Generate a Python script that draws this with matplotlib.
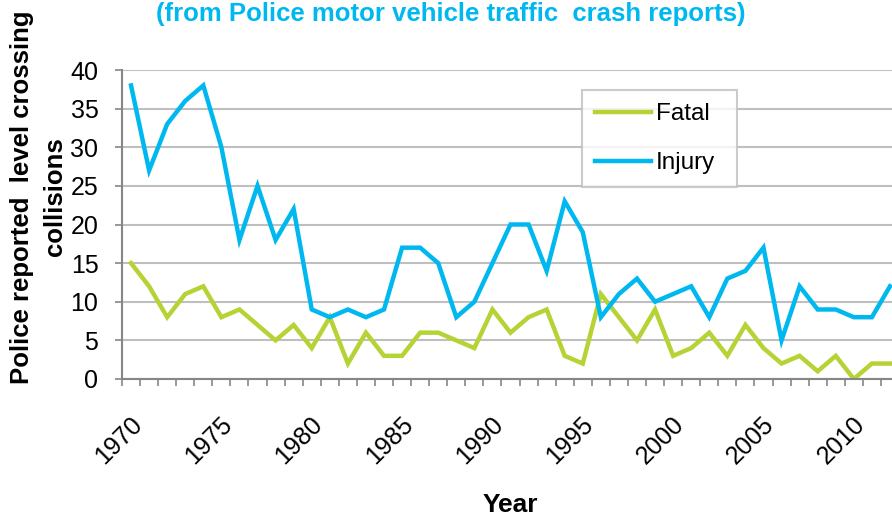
import matplotlib

matplotlib.use("Agg")

import matplotlib.pyplot as plt
from matplotlib.transforms import ScaledTranslation

plt.rcParams["font.family"] = ["Liberation Sans", "DejaVu Sans"]

years = list(range(1970, 2013))
fatal = [15, 12, 8, 11, 12, 8, 9, 7, 5, 7,
         4, 8, 2, 6, 3, 3, 6, 6, 5, 4,
         9, 6, 8, 9, 3, 2, 11, 8, 5, 9,
         3, 4, 6, 3, 7, 4, 2, 3, 1, 3,
         0, 2, 2]
injury = [38, 27, 33, 36, 38, 30, 18, 25, 18, 22,
          9, 8, 9, 8, 9, 17, 17, 15, 8, 10,
          15, 20, 20, 14, 23, 19, 8, 11, 13, 10,
          11, 12, 8, 13, 14, 17, 5, 12, 9, 9,
          8, 8, 12]
label_years = list(range(1970, 2011, 5))

GREEN = "#B5D334"
BLUE = "#00B8F0"
GRID = "#BFBFBF"
AXIS = "#868686"

fig = plt.figure(figsize=(8.92, 5.18), dpi=100)
ax = fig.add_axes([122 / 892, 1 - 379 / 518, (899 - 122) / 892, (379 - 70) / 518])

ax.plot(years, fatal, color=GREEN, lw=3.2, label="Fatal", solid_joinstyle="miter")
ax.plot(years, injury, color=BLUE, lw=3.2, label="Injury", solid_joinstyle="miter")

ax.set_xlim(1969.5, 2012.5)
ax.set_ylim(0, 40)
ax.set_yticks(range(0, 41, 5))
ax.set_xticks(label_years)
ax.set_xticks([y - 0.5 for y in years] + [2012.5], minor=True)
ax.yaxis.grid(True, color=GRID, lw=1.5)
ax.set_axisbelow(True)

for side in ("top", "right"):
    ax.spines[side].set_visible(False)
for side in ("left", "bottom"):
    ax.spines[side].set_color(AXIS)
    ax.spines[side].set_linewidth(1.5)

ax.tick_params(axis="y", length=5, width=1.2, color=AXIS, pad=12, labelsize=18)
ax.tick_params(axis="x", which="major", length=0, pad=30, labelsize=18)
ax.tick_params(axis="x", which="minor", length=5, width=1.2, color=AXIS)

offset = ScaledTranslation(0.07, 0, fig.dpi_scale_trans)
for lab in ax.get_xticklabels():
    lab.set_rotation(45)
    lab.set_ha("right")
    lab.set_va("center")
    lab.set_rotation_mode("anchor")
    lab.set_transform(lab.get_transform() + offset)

ax.set_xlabel("Year", fontsize=19, fontweight="bold", va="center")
ax.xaxis.set_label_coords(0.5, -(505 - 379) / 309)

fig.text(0.043, 1 - 197 / 518, "Police reported  level crossing\ncollisions",
         rotation=90, ha="center", va="center", fontsize=18.5, fontweight="bold",
         linespacing=1.45, multialignment="center")

fig.text(451 / 892, 1 - 14 / 518, "(from Police motor vehicle traffic  crash reports)",
         ha="center", va="center", fontsize=18.5, fontweight="bold", color=BLUE)

leg_x0 = (582 - 122) / 777
leg_w = (737 - 582) / 777
leg_top = 1 - (90 - 70) / 309
leg = ax.legend(loc="upper left", bbox_to_anchor=(leg_x0, leg_top - 0.3, leg_w, 0.3),
                mode="expand", fontsize=17.5, frameon=True, fancybox=False, edgecolor=GRID,
                handlelength=2.3, handletextpad=0.2, labelspacing=1.1,
                borderpad=0.55, borderaxespad=0)
leg.get_frame().set_linewidth(1.5)

fig.savefig("out.png", dpi=100)
